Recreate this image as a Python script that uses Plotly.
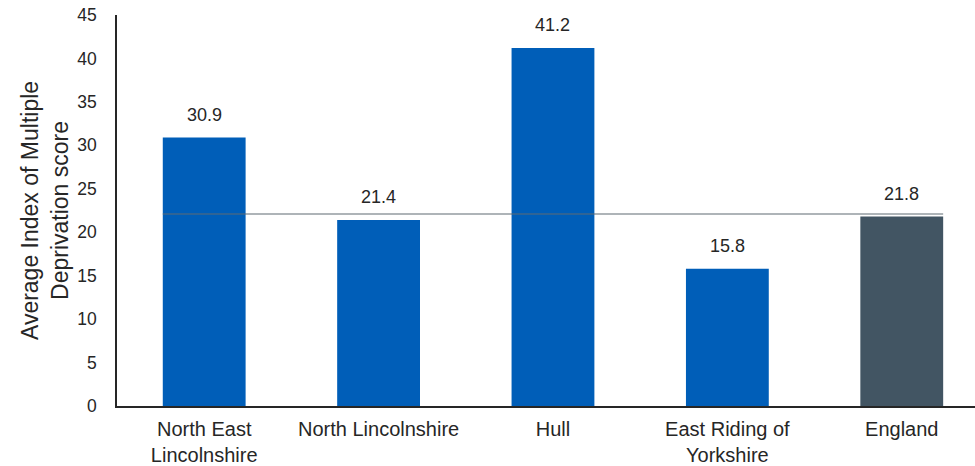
import plotly.graph_objects as go

# Average IMD score by area
areas = ["North East<br>Lincolnshire", "North Lincolnshire", "Hull",
         "East Riding of<br>Yorkshire", "England"]
scores = [30.9, 21.4, 41.2, 15.8, 21.8]
bar_colours = ["#005EB8", "#005EB8", "#005EB8", "#005EB8", "#425563"]
england_ref = 22.1
y_ticks = [0, 5, 10, 15, 20, 25, 30, 35, 40, 45]

FONT = "Liberation Sans, Arial, sans-serif"
TEXT = "#262626"
BAR_W = 0.475

fig = go.Figure()
fig.add_trace(go.Bar(
    x=list(range(len(areas))), y=scores,
    marker=dict(color=bar_colours, line=dict(width=0)),
    width=BAR_W, hoverinfo="skip",
))

# value labels above each bar
for i, v in enumerate(scores):
    fig.add_annotation(x=i, y=v, text=f"{v:.1f}", showarrow=False,
                       yanchor="bottom", yshift=11,
                       font=dict(family=FONT, size=18, color=TEXT))

# England reference line across all bars
fig.add_shape(type="line", xref="x", yref="y",
              x0=-BAR_W / 2, x1=len(areas) - 1 + BAR_W / 2,
              y0=england_ref, y1=england_ref,
              line=dict(color="#5f6b73", width=1.2))

fig.update_layout(
    width=975, height=466,
    margin=dict(l=117, r=0, t=15, b=60),
    paper_bgcolor="white", plot_bgcolor="white",
    showlegend=False,
    font=dict(family=FONT, color=TEXT),
    xaxis=dict(
        range=[-0.5, 4.42], automargin=False,
        tickmode="array", tickvals=list(range(len(areas))), ticktext=areas,
        tickfont=dict(size=20, family=FONT, color=TEXT),
        showline=True, linecolor=TEXT, linewidth=1.5,
        showgrid=False, ticks="", zeroline=False,
        ticklabelstandoff=4,
    ),
    yaxis=dict(
        range=[0, 45], tickmode="array", tickvals=y_ticks, automargin=False,
        tickfont=dict(size=17.5, family=FONT, color=TEXT),
        showline=True, linecolor=TEXT, linewidth=1.5,
        showgrid=False, ticks="", zeroline=False,
        ticklabelstandoff=15,
        title=dict(text="Average Index of Multiple<br>Deprivation score",
                   font=dict(size=23, family=FONT, color=TEXT),
                   standoff=2),
    ),
)

fig.write_html("out.html")
